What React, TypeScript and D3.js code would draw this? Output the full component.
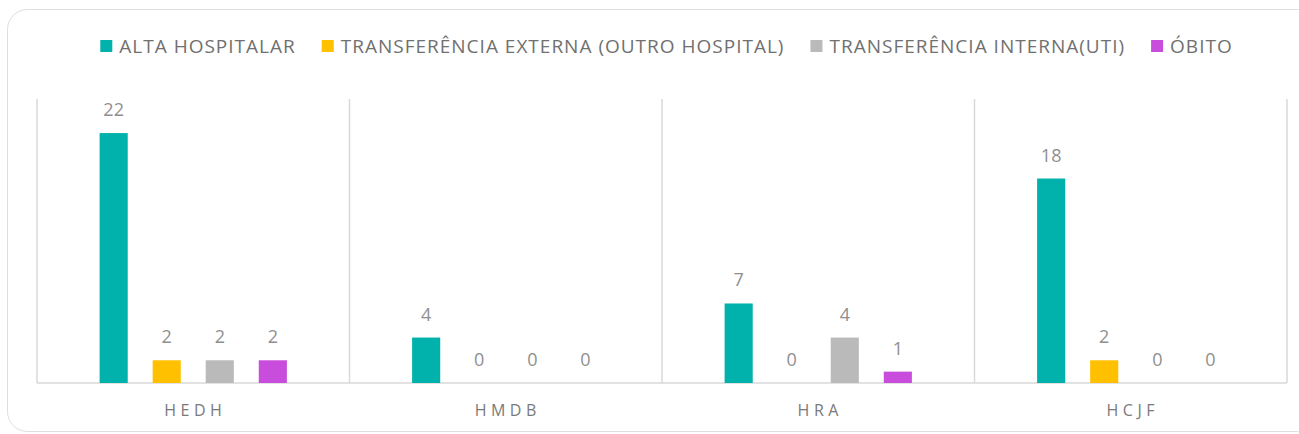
import * as d3 from "d3";
import React, { useRef, useEffect } from "react";

const width = 1299;
const height = 434;
const margin = { top: 99, right: 12, bottom: 51, left: 37 };

const hospitals = ["HEDH", "HMDB", "HRA", "HCJF"];
const seriesNames = [
  "ALTA HOSPITALAR",
  "TRANSFERÊNCIA EXTERNA (OUTRO HOSPITAL)",
  "TRANSFERÊNCIA INTERNA(UTI)",
  "ÓBITO",
];
const altaHospitalar = [22, 4, 7, 18];
const transfExterna = [2, 0, 0, 2];
const transfInterna = [2, 0, 4, 0];
const obito = [2, 0, 1, 0];
const colors = ["#00B1AC", "#FFC000", "#BABABA", "#C94DDC"];

const seriesValues = [altaHospitalar, transfExterna, transfInterna, obito];
const font = "'Open Sans', Lato, sans-serif";

const App = () => {
  const svgRef = useRef<SVGSVGElement>(null);

  useEffect(() => {
    const svg = d3.select(svgRef.current);
    svg.selectAll("*").remove();

    // card
    svg
      .append("rect")
      .attr("x", 7.5)
      .attr("y", 9.5)
      .attr("width", 1310)
      .attr("height", 422)
      .attr("rx", 20)
      .attr("fill", "#fff")
      .attr("stroke", "#dedede");

    const x0 = d3
      .scaleBand()
      .domain(hospitals)
      .range([margin.left, width - margin.right]);
    const x1 = d3
      .scaleBand()
      .domain(seriesNames)
      .range([0, x0.bandwidth()])
      .paddingInner(0.47)
      .paddingOuter(1.18);
    const y = d3
      .scaleLinear()
      .domain([0, 25])
      .range([height - margin.bottom, margin.top]);

    // vertical separators
    const lines = hospitals.map((h) => x0(h)!).concat([x0.range()[1]]);
    svg
      .append("g")
      .selectAll("line")
      .data(lines)
      .join("line")
      .attr("x1", (d) => d)
      .attr("x2", (d) => d)
      .attr("y1", margin.top)
      .attr("y2", y(0))
      .attr("stroke", "#d9d9d9")
      .attr("stroke-width", 1.5);

    // baseline
    svg
      .append("line")
      .attr("x1", margin.left)
      .attr("x2", width - margin.right)
      .attr("y1", y(0))
      .attr("y2", y(0))
      .attr("stroke", "#d9d9d9")
      .attr("stroke-width", 1.5);

    const rows = hospitals.map((h, i) => ({
      h,
      vals: seriesNames.map((s, j) => ({ s, j, v: seriesValues[j][i] })),
    }));

    const groups = svg
      .append("g")
      .selectAll("g")
      .data(rows)
      .join("g")
      .attr("transform", (d) => `translate(${x0(d.h)},0)`);

    groups
      .selectAll("rect")
      .data((d) => d.vals)
      .join("rect")
      .attr("x", (d) => x1(d.s)!)
      .attr("y", (d) => y(d.v))
      .attr("width", x1.bandwidth())
      .attr("height", (d) => y(0) - y(d.v))
      .attr("fill", (d) => colors[d.j]);

    groups
      .selectAll("text")
      .data((d) => d.vals)
      .join("text")
      .attr("x", (d) => x1(d.s)! + x1.bandwidth() / 2)
      .attr("y", (d) => y(d.v) - 17)
      .attr("text-anchor", "middle")
      .attr("font-family", font)
      .attr("font-size", 18)
      .attr("fill", "#8f8f8f")
      .text((d) => d.v);

    // category labels
    svg
      .append("g")
      .selectAll("text")
      .data(hospitals)
      .join("text")
      .attr("x", (d) => x0(d)! + x0.bandwidth() / 2 + 2)
      .attr("y", y(0) + 33)
      .attr("text-anchor", "middle")
      .attr("font-family", font)
      .attr("font-size", 16)
      .attr("letter-spacing", 4.5)
      .attr("fill", "#7a7a7a")
      .text((d) => d);

    // legend
    const legend = svg.append("g");
    const items = legend
      .selectAll("g")
      .data(seriesNames)
      .join("g");
    items
      .append("rect")
      .attr("width", 12)
      .attr("height", 12)
      .attr("y", -6)
      .attr("fill", (d, i) => colors[i]);
    const labels = items
      .append("text")
      .attr("x", 19)
      .attr("dy", "0.35em")
      .attr("font-family", font)
      .attr("font-size", 19)
      .attr("letter-spacing", 1)
      .attr("fill", "#707070")
      .text((d) => d);
    const widths: number[] = [];
    labels.each(function () {
      widths.push((this as SVGTextElement).getComputedTextLength());
    });
    const gap = 26;
    const total = d3.sum(widths) + widths.length * 19 + gap * (widths.length - 1);
    let cx = 666.5 - total / 2;
    items.attr("transform", (d, i) => {
      const t = `translate(${cx},46)`;
      cx += 19 + widths[i] + gap;
      return t;
    });
  }, []);

  return (
    <svg
      ref={svgRef}
      width={width}
      height={height}
      style={{ position: "absolute", left: 0, top: 0 }}
    />
  );
};

export default App;
